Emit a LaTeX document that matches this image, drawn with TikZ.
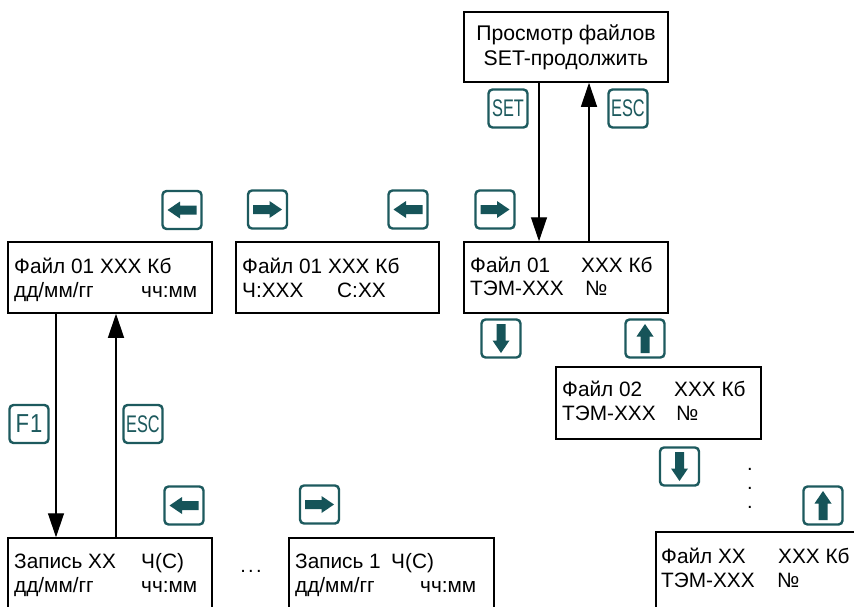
\documentclass[tikz,border=0pt]{standalone}
\usepackage{fontspec}
\setmainfont{Liberation Sans}
\newfontfamily\keyfont[FakeStretch=0.68]{Liberation Sans}
\newfontfamily\fonefont[FakeStretch=0.85]{Liberation Sans}
\usetikzlibrary{arrows.meta}
\definecolor{keyc}{HTML}{1D5A5E}
\definecolor{glyphc}{HTML}{165459}
\begin{document}
\begin{tikzpicture}[x=1pt,y=-1pt,
  scr/.style={draw=black, line width=1.5pt, fill=white, inner sep=0pt},
  txt/.style={anchor=base west, inner sep=0pt, font=\fontsize{20.8}{24}\selectfont},
  keybox/.style={draw=keyc, line width=2.4pt, rounded corners=4pt, fill=white,
    minimum width=39pt, minimum height=38pt, inner sep=0pt},
  keytxt/.style={keybox, text=keyc, font=\keyfont\fontsize{24}{24}\selectfont},
  flow/.style={line width=1.3pt, -{Triangle[width=16pt,length=24pt]}},
  keyarr/.pic={
    \node[keybox] (-k) {};
    \fill[glyphc, rotate=#1] (-14.5,0) -- (-2,-8.5) -- (-2,-4.5) -- (14.5,-4.5) -- (14.5,4.5) -- (-2,4.5) -- (-2,8.5) -- cycle;
  }
]
\clip (0,0) rectangle (854,606);
\fill[white] (0,0) rectangle (854,606);

% top box
\node[scr, minimum width=204pt, minimum height=70pt, align=center,
  font=\fontsize{21.2}{25}\selectfont] (top) at (566,47) {Просмотр файлов\\SET-продолжить};

% keys SET / ESC
\node[keytxt] (kset) at (508,108.5) {SET};
\node[keytxt] (kesc1) at (628,108.5) {ESC};

% middle row boxes
\node[scr, minimum width=204pt, minimum height=71pt] (b1) at (110,277.5) {};
\node[scr, minimum width=203pt, minimum height=71pt] (b2) at (337.5,277.5) {};
\node[scr, minimum width=204pt, minimum height=71pt] (b3) at (566,277.5) {};

\node[txt] (b1a) at (14,273) {Файл 01 XXX Кб};
\node[txt] (b1b) at (14,297) {дд/мм/гг};
\node[txt] (b1c) at (141,297) {чч:мм};

\node[txt] (b2a) at (242,273) {Файл 01 XXX Кб};
\node[txt] (b2b) at (242,297) {Ч:XXX};
\node[txt] (b2c) at (337,297) {С:XX};

\node[txt] (b3a) at (470,272) {Файл 01};
\node[txt] (b3b) at (581,272) {XXX Кб};
\node[txt] (b3c) at (470,295) {ТЭМ-XXX};
\node[txt] (b3d) at (585,295) {№};

% row arrow keys
\pic (kl1) at (182,210) {keyarr=0};
\pic (kr1) at (267.5,209.5) {keyarr=180};
\pic (kl2) at (408,209.5) {keyarr=0};
\pic (kr2) at (495,209.5) {keyarr=180};

% keys below box3
\pic (kd1) at (501,338.5) {keyarr=90};
\pic (ku1) at (645,338.5) {keyarr=-90};

% file 02
\node[scr, minimum width=205pt, minimum height=72pt] (b4) at (658.5,403) {};
\node[txt] (b4a) at (562,396) {Файл 02};
\node[txt] (b4b) at (674,396) {XXX Кб};
\node[txt] (b4c) at (562,420) {ТЭМ-XXX};
\node[txt] (b4d) at (676,420) {№};

\pic (kd2) at (679.5,466.5) {keyarr=90};
\node[align=center, inner sep=0pt, font=\fontsize{20}{19}\selectfont] (vdots) at (750,488) {.\\.\\.};
\pic (ku2) at (823,505.5) {keyarr=-90};

% file XX
\node[scr, minimum width=204pt, minimum height=76pt] (b5) at (758,570) {};
\node[txt] (b5a) at (661,563) {Файл XX};
\node[txt] (b5b) at (778,563) {XXX Кб};
\node[txt] (b5c) at (661,587) {ТЭМ-XXX};
\node[txt] (b5d) at (777,587) {№};

% F1 / ESC keys on left
\node[keytxt, font=\fonefont\fontsize{26}{26}\selectfont] (kf1) at (29,424) {F\kern1pt1};
\node[keytxt] (kesc2) at (143,424) {ESC};

% bottom keys
\pic (kl3) at (184,505.5) {keyarr=0};
\pic (kr3) at (319.5,504.5) {keyarr=180};

% record boxes
\node[scr, minimum width=204pt, minimum height=74pt] (z1) at (110,575) {};
\node[txt] (z1a) at (14,568) {Запись XX};
\node[txt] (z1b) at (141,568) {Ч(С)};
\node[txt] (z1c) at (14,592) {дд/мм/гг};
\node[txt] (z1d) at (141,592) {чч:мм};

\node[inner sep=0pt, font=\fontsize{20}{24}\selectfont] (hdots) at (251,571) {.\kern2.4pt.\kern2.4pt.};

\node[scr, minimum width=205pt, minimum height=74pt] (z2) at (391.5,575) {};
\node[txt] (z2a) at (295,568) {Запись 1};
\node[txt] (z2b) at (391,568) {Ч(С)};
\node[txt] (z2c) at (295,592) {дд/мм/гг};
\node[txt] (z2d) at (420,592) {чч:мм};

% connectors
\draw[flow] (top.south -| 539,0) -- (b3.north -| 539,0);
\draw[flow] (b3.north -| 589,0) -- (top.south -| 589,0);
\draw[flow] (b1.south -| 56,0) -- (z1.north -| 56,0);
\draw[flow] (z1.north -| 116,0) -- (b1.south -| 116,0);
\end{tikzpicture}
\end{document}
